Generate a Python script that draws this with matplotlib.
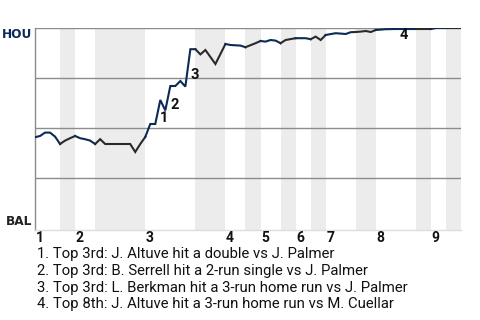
import matplotlib
matplotlib.use("Agg")
import matplotlib.pyplot as plt

# win probability for HOU (1 = HOU wins, 0 = BAL wins), by play number
play = [0, 1, 2, 3, 4, 5, 6, 7, 8, 9, 10, 11, 12, 13, 14, 19, 20, 21, 22,
        23, 24, 25, 26, 27, 28, 29, 30, 31, 32, 33, 34, 36, 38, 39, 41, 42,
        44, 45, 46, 47, 48, 49, 50, 52, 54, 55, 56, 57, 58, 60, 62, 63, 64,
        65, 66, 67, 68, 70, 72, 76, 79, 80, 82, 85]
wp = [0.454, 0.46, 0.477, 0.477, 0.457, 0.42, 0.437, 0.449, 0.46, 0.449,
      0.444, 0.437, 0.42, 0.444, 0.42, 0.42, 0.38, 0.42, 0.455,
      0.52, 0.52, 0.64, 0.588, 0.71, 0.71, 0.735, 0.707, 0.894, 0.894,
      0.868, 0.89, 0.82, 0.92, 0.915, 0.912, 0.904,
      0.924, 0.935, 0.932, 0.94, 0.937, 0.924, 0.94, 0.949, 0.949, 0.944,
      0.957, 0.94, 0.965, 0.974, 0.97, 0.979, 0.98,
      0.982, 0.985, 0.98, 0.99, 0.994, 0.995, 0.995, 0.995, 1.0, 1.0, 1.0]

# first play of each half inning (top 1st, bottom 1st, ... bottom 9th) + end
half_starts = [0, 5, 8, 12, 22, 32, 38, 42, 45, 49, 52, 55, 58, 64, 68, 76,
               79, 82, 85]
innings = ["1", "2", "3", "4", "5", "6", "7", "8", "9"]

# key events
event_labels = ["1", "2", "3", "4"]
event_play = [25.7, 27.8, 31.8, 73.6]
event_wp = [0.552, 0.617, 0.767, 0.967]
event_text = [
    "1. Top 3rd: J. Altuve hit a double vs J. Palmer",
    "2. Top 3rd: B. Serrell hit a 2-run single vs J. Palmer",
    "3. Top 3rd: L. Berkman hit a 3-run home run vs J. Palmer",
    "4. Top 8th: J. Altuve hit a 3-run home run vs M. Cuellar",
]

navy = "#0b2a58"
dark = "#2a2a2a"

fig = plt.figure(figsize=(4.8, 3.2), dpi=100)
ax = fig.add_axes([35 / 480, 1 - 230 / 320, 426 / 480, 202 / 320])
ax.set_xlim(0, 85)
ax.set_ylim(-0.01, 1.0)

# shaded bottom halves
for i in range(1, len(half_starts) - 1, 2):
    ax.axvspan(half_starts[i], half_starts[i + 1], color="#ececec", lw=0, zorder=0)

for y in [0.25, 0.5, 0.75, 1.0]:
    ax.axhline(y, color="#8c8c8c", lw=1.0, zorder=1)

# line, coloured by which team is batting
for i in range(len(half_starts) - 1):
    a, b = half_starts[i], half_starts[i + 1]
    xs = [p for p in play if a <= p <= b]
    ys = [w for p, w in zip(play, wp) if a <= p <= b]
    ax.plot(xs, ys, color=navy if i % 2 == 0 else dark, lw=1.5,
            solid_joinstyle="miter", zorder=3)

for lab, x, y in zip(event_labels, event_play, event_wp):
    ax.text(x, y, lab, ha="center", va="center", fontsize=10.5,
            fontweight="bold", family="Roboto", color="#111111", zorder=4)

for k, lab in enumerate(innings):
    ax.text(half_starts[2 * k] + 0.1, -0.068, lab, ha="left", va="baseline",
            fontsize=10, fontweight="bold", family="Roboto", color="#111111",
            clip_on=False)

ax.text(-0.5, 0.9485, "HOU", ha="right", va="baseline", fontsize=8.7,
        fontweight="bold", color=navy, family="DejaVu Sans")
ax.text(-0.5, 0.015, "BAL", ha="right", va="baseline", fontsize=8.7,
        fontweight="bold", color="#222222", family="DejaVu Sans")

ax.set_xticks([])
ax.set_yticks([])
for s in ["top", "right"]:
    ax.spines[s].set_visible(False)
ax.spines["left"].set_color("#8c8c8c")
ax.spines["left"].set_linewidth(1.0)
ax.spines["bottom"].set_color("#dddddd")
ax.spines["bottom"].set_linewidth(1.0)

for k, t in enumerate(event_text):
    fig.text(37 / 480, 1 - (258.3 + 16.67 * k) / 320, t, ha="left",
             va="baseline", fontsize=10.75, family="Roboto", color="#111111")

fig.savefig("out.png", dpi=100)
